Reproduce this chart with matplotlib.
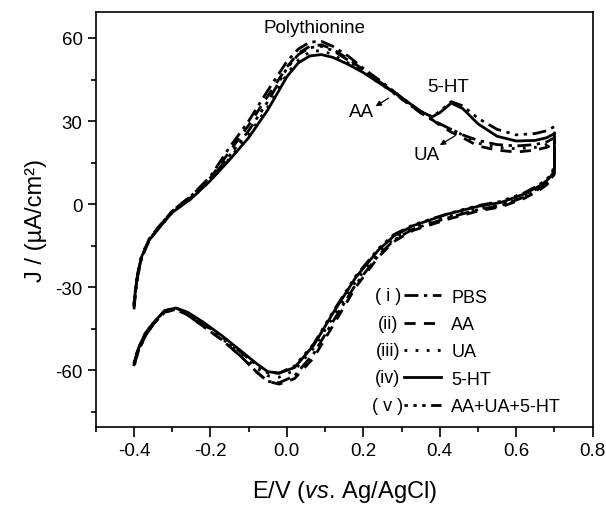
"""Cyclic voltammograms of the polythionine electrode in PBS, AA, UA, 5-HT and the mixture."""
import matplotlib
matplotlib.use("Agg")
import matplotlib.pyplot as plt
from matplotlib.ticker import MultipleLocator

plt.rcParams["font.family"] = ["Liberation Sans", "DejaVu Sans"]
plt.rcParams["mathtext.fontset"] = "custom"
plt.rcParams["mathtext.rm"] = "Liberation Sans"
plt.rcParams["mathtext.it"] = "Liberation Sans:italic"
plt.rcParams["axes.unicode_minus"] = False

# forward (anodic) sweep potentials, V
E_FWD = [-0.400, -0.395, -0.390, -0.380, -0.360, -0.340, -0.300, -0.250, -0.200,
         -0.150, -0.100, -0.050, 0.000, 0.030, 0.060, 0.090, 0.120, 0.160, 0.200,
         0.250, 0.300, 0.350, 0.380, 0.400, 0.430, 0.460, 0.500, 0.550, 0.600,
         0.650, 0.680, 0.700]
# reverse (cathodic) sweep potentials, V
E_REV = [0.700, 0.695, 0.690, 0.680, 0.660, 0.620, 0.560, 0.500, 0.420, 0.330,
         0.280, 0.240, 0.180, 0.120, 0.070, 0.020, -0.020, -0.050, -0.080, -0.120,
         -0.170, -0.220, -0.260, -0.290, -0.320, -0.350, -0.370, -0.385, -0.395,
         -0.400]

# current density, uA/cm2
PBS_FWD = [-38, -31, -26, -19.5, -13, -9, -2.5, 3, 10, 20.5, 30, 41, 51.5, 56, 58.5,
           58.8, 57, 53.5, 49, 44, 38.5, 33, 30.5, 29, 27, 25, 23, 21.5, 21, 21.5,
           22.5, 24]
PBS_REV = [12, 10, 9, 7.5, 5.5, 2.5, -0.5, -2, -5, -9, -13, -18.5, -29, -42.5, -54,
           -62, -64.5, -64, -60.5, -55, -49, -44, -40, -38, -39, -43.5, -47.5, -52,
           -55.5, -58.5]
AA_FWD = [-37, -30, -25, -19, -12.5, -9, -2.5, 3, 9.5, 19, 28.5, 39, 49.5, 54.5, 57,
          57.5, 56, 52.5, 48.5, 43.5, 38, 33, 30.5, 28.5, 26, 24, 21, 19.5, 18.8,
          19.5, 20.5, 22]
AA_REV = [11, 9.5, 8.5, 7, 5, 2, -1, -2.5, -5.5, -9.5, -13.5, -19, -30, -44, -55.5,
          -63, -65, -64, -60.5, -55, -49, -44, -40, -38, -39, -43.5, -47.5, -52, -56,
          -59]
UA_FWD = [-36, -29, -24.5, -18.5, -12.5, -9.5, -3, 2, 8.5, 16.5, 25, 35, 47, 52, 55,
          55.5, 54, 51, 47.5, 43, 38, 33, 30.5, 29, 27, 25, 22, 20.5, 20, 20.5, 21.5,
          23]
UA_REV = [12, 10.5, 9.5, 8, 6, 3, 0, -1.5, -4.5, -8.5, -12.5, -17.5, -28, -41, -52,
          -60, -62.5, -62, -59, -54, -48.5, -43, -39.5, -37.5, -38.5, -43, -47, -51.5,
          -55, -57.5]
HT_FWD = [-36, -30, -25, -19, -13, -9.5, -3, 2, 8.5, 16, 24, 34, 46, 51, 53.5, 54, 53,
          50.5, 47.5, 43, 38.5, 33.5, 31.5, 33, 36.5, 34.5, 29, 24.5, 22.8, 23, 24,
          25.5]
HT_REV = [13, 11, 10, 8.5, 6.5, 3.6, 0.6, -0.8, -3.6, -7.8, -11.5, -16.5, -26.5,
          -39.5, -51, -59, -61, -60.5, -57.5, -53, -47.5, -42.5, -39, -37.5, -38.5,
          -43, -46.5, -51, -55, -58]
MIX_FWD = [-37, -30, -25, -19, -13, -9.5, -3, 2.5, 9, 17.5, 26.5, 37, 49, 54, 56.5,
           57, 55.5, 52, 48, 43.5, 38.5, 33.5, 31.5, 33.5, 37, 35.5, 31, 27, 25,
           25.5, 26.5, 28]
MIX_REV = [14, 12, 10.5, 9, 7, 4, 1, -0.5, -3.5, -7.5, -11, -16, -26, -39, -50.5,
           -58.5, -61, -61, -58, -53.5, -48, -43, -39.5, -37.5, -38.5, -43, -46.5,
           -51, -54.5, -57.5]

LABELS = ["PBS", "AA", "UA", "5-HT", "AA+UA+5-HT"]
NUMERALS = ["( i )", "(ii)", "(iii)", "(iv)", "( v )"]
SERIES = [(PBS_FWD, PBS_REV), (AA_FWD, AA_REV), (UA_FWD, UA_REV),
          (HT_FWD, HT_REV), (MIX_FWD, MIX_REV)]
STYLES = [(0, (5, 2, 1.2, 2)), (0, (4, 3)), (0, (1, 3)), "-",
          (0, (1.2, 2, 1.2, 2, 1.2, 2, 5, 2))]


fig = plt.figure(figsize=(6.06, 5.06), dpi=100)
ax = fig.add_axes([0.158, 0.154, 0.820, 0.821])

handles = []
for (fwd, rev), ls, lab in zip(SERIES, STYLES, LABELS):
    line, = ax.plot(E_FWD + E_REV, fwd + rev, color="black", lw=2.0, ls=ls, label=lab)
    handles.append(line)

ax.set_xlim(-0.5, 0.8)
ax.set_ylim(-80.5, 69.5)
ax.xaxis.set_major_locator(MultipleLocator(0.2))
ax.xaxis.set_minor_locator(MultipleLocator(0.1))
ax.yaxis.set_major_locator(MultipleLocator(30))
ax.yaxis.set_minor_locator(MultipleLocator(15))
ax.tick_params(which="both", direction="out", labelsize=13.5, width=1.2)
ax.tick_params(which="major", length=6)
ax.tick_params(which="minor", length=3.5)
ax.tick_params(axis="x", which="major", length=7)
for sp in ax.spines.values():
    sp.set_linewidth(1.2)

ax.set_xlabel(r"E/V ($\mathit{vs.}\,$Ag/AgCl)", fontsize=17, labelpad=14)
ax.set_ylabel("J / (µA/cm²)", fontsize=17, labelpad=6)

ax.text(0.073, 63.8, "Polythionine", fontsize=13.5, ha="center", va="center")
ax.text(0.422, 42.5, "5-HT", fontsize=13.5, ha="center", va="center")
ax.text(0.194, 33.4, "AA", fontsize=13.5, ha="center", va="center")
ax.text(0.365, 18.0, "UA", fontsize=13.5, ha="center", va="center")
arrow = dict(arrowstyle="-|>", lw=0.9, color="black", mutation_scale=8)
ax.annotate("", xy=(0.226, 34.8), xytext=(0.272, 38.8), arrowprops=arrow)
ax.annotate("", xy=(0.394, 20.8), xytext=(0.446, 25.2), arrowprops=arrow)

ax.legend(handles=handles, loc="upper left", bbox_to_anchor=(0.621, 0.333),
          frameon=False, fontsize=13, handlelength=2.05, handletextpad=0.55,
          labelspacing=0.57, borderpad=0, borderaxespad=0)
for num, yy in zip(NUMERALS, [-32.9, -43.0, -52.8, -62.6, -72.6]):
    ax.text(0.264, yy, num, fontsize=13, ha="center", va="center")

fig.savefig("out.png", dpi=100)
